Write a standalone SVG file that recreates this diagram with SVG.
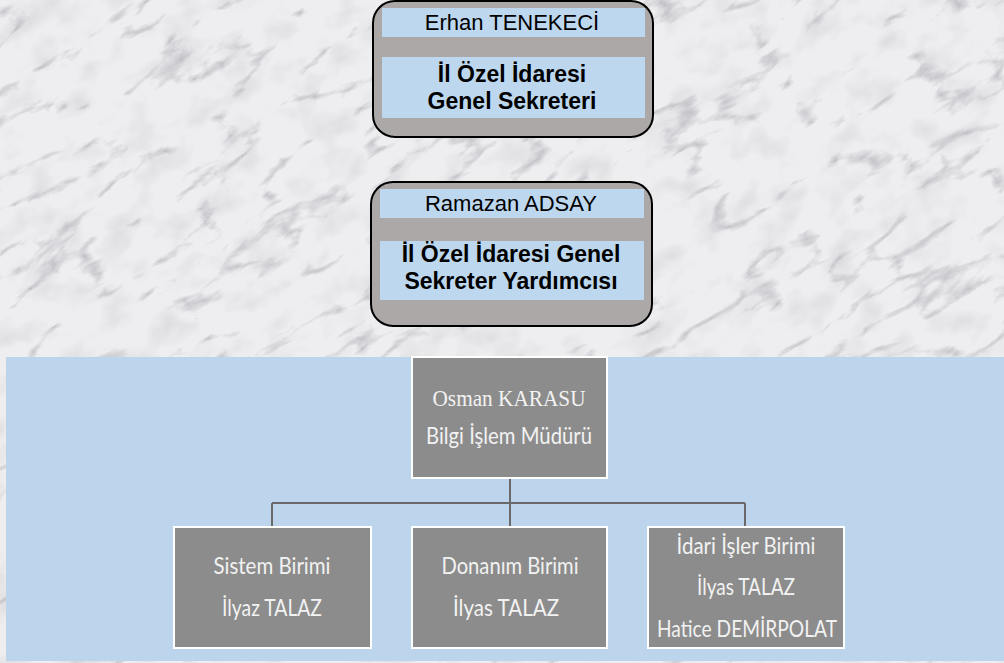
<svg xmlns="http://www.w3.org/2000/svg" width="1004" height="663" viewBox="0 0 1004 663">
<style>
.top{fill:#aca8a8;stroke:#000;stroke-width:2}
.band{fill:#bdd7ee}
.nt{font-family:"Liberation Sans",Arial,sans-serif;font-size:22px;fill:#000;text-anchor:middle}
.bt{font-family:"Liberation Sans",Arial,sans-serif;font-size:23px;font-weight:bold;fill:#000;text-anchor:middle}
.box{fill:#8c8c8c;stroke:#fff;stroke-width:2}
.ct{font-family:Lato,"Open Sans",sans-serif;font-size:23px;fill:#f2f2f2;text-anchor:middle}
.st{font-family:"Liberation Serif","Times New Roman",serif;font-size:23px;fill:#f2f2f2;text-anchor:middle}
.conn{stroke:#6a6a6a;stroke-width:2;fill:none}
</style>
<defs>
<filter id="marble" x="0" y="0" width="100%" height="100%" filterUnits="objectBoundingBox">
<feTurbulence type="turbulence" baseFrequency="0.008 0.022" numOctaves="5" seed="7" result="t"/>
<feColorMatrix in="t" type="matrix" values="0 0 0 0 0.42  0 0 0 0 0.42  0 0 0 0 0.46  -4 0 0 0 0.75"/>
</filter>
<filter id="blotch" x="0" y="0" width="100%" height="100%" filterUnits="objectBoundingBox">
<feTurbulence type="fractalNoise" baseFrequency="0.025 0.035" numOctaves="3" seed="2" result="n"/>
<feColorMatrix in="n" type="matrix" values="0 0 0 0 0.68  0 0 0 0 0.68  0 0 0 0 0.71  -1.8 0 0 0 0.95"/>
</filter>
</defs>
<g id="background">
<rect x="0" y="0" width="1004" height="663" fill="#eeeef0"/>
<g transform="rotate(-32 502 331)">
<rect x="-300" y="-300" width="1600" height="1260" filter="url(#blotch)"/>
<rect x="-300" y="-300" width="1600" height="1260" filter="url(#marble)"/>
</g>
</g>
<rect id="panel" x="6" y="357" width="998" height="304" fill="#bdd5ec"/>
<g id="connectors">
<path class="conn" d="M510 478V503M272 503H745M272 503V527M510 503V527M745 503V527"/>
</g>
<g id="node-tenekeci">
<rect class="top" x="373" y="1" width="280" height="136" rx="22"/>
<rect class="band" x="382" y="8" width="263" height="29"/>
<rect class="band" x="382" y="57" width="263" height="61"/>
<text class="nt" x="512" y="30">Erhan TENEKECİ</text>
<text class="bt" x="512" y="82">İl Özel İdaresi</text>
<text class="bt" x="512" y="109">Genel Sekreteri</text>
</g>
<g id="node-adsay">
<rect class="top" x="371" y="182" width="281" height="144" rx="22"/>
<rect class="band" x="380" y="189" width="264" height="29"/>
<rect class="band" x="380" y="241" width="264" height="59"/>
<text class="nt" x="511" y="211">Ramazan ADSAY</text>
<text class="bt" x="511" y="262">İl Özel İdaresi Genel</text>
<text class="bt" x="511" y="289">Sekreter Yardımcısı</text>
</g>
<g id="node-karasu">
<rect class="box" x="412" y="357" width="195" height="121"/>
<text class="st" x="509" y="406" textLength="153" lengthAdjust="spacingAndGlyphs">Osman KARASU</text>
<text class="ct" x="509" y="444" textLength="166" lengthAdjust="spacingAndGlyphs">Bilgi İşlem Müdürü</text>
</g>
<g id="node-sistem">
<rect class="box" x="174" y="527" width="197" height="121"/>
<text class="ct" x="272" y="574" textLength="117" lengthAdjust="spacingAndGlyphs">Sistem Birimi</text>
<text class="ct" x="272" y="616" textLength="100" lengthAdjust="spacingAndGlyphs">İlyaz TALAZ</text>
</g>
<g id="node-donanim">
<rect class="box" x="412" y="527" width="195" height="121"/>
<text class="ct" x="510" y="574" textLength="137" lengthAdjust="spacingAndGlyphs">Donanım Birimi</text>
<text class="ct" x="506" y="616" textLength="106" lengthAdjust="spacingAndGlyphs">İlyas TALAZ</text>
</g>
<g id="node-idari">
<rect class="box" x="648" y="527" width="196" height="121"/>
<text class="ct" x="746" y="554" textLength="139" lengthAdjust="spacingAndGlyphs">İdari İşler Birimi</text>
<text class="ct" x="746" y="595" textLength="98" lengthAdjust="spacingAndGlyphs">İlyas TALAZ</text>
<text class="ct" x="747" y="637" textLength="180" lengthAdjust="spacingAndGlyphs">Hatice DEMİRPOLAT</text>
</g>
</svg>
